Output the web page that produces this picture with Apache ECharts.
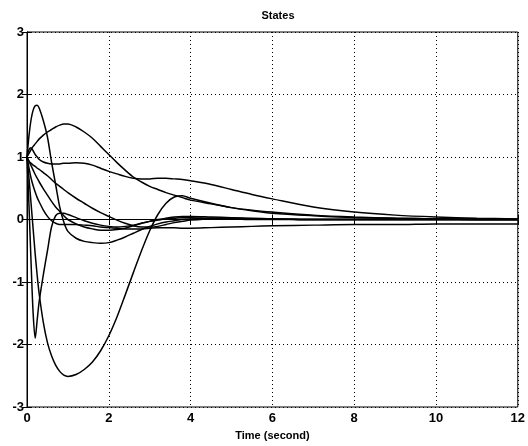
<!DOCTYPE html>
<html>
<head>
<meta charset="utf-8">
<script src="https://cdn.jsdelivr.net/npm/echarts@6/dist/echarts.min.js"></script>
<style>
html,body{margin:0;padding:0;background:#fff;}
#c{width:528px;height:446px;}
</style>
</head>
<body>
<div id="c"></div>
<script>
// time samples (s)
const T = [0, 0.05, 0.1, 0.15, 0.2, 0.25, 0.3, 0.4, 0.5, 0.6, 0.7, 0.8, 0.9, 1.0,
  1.2, 1.4, 1.6, 1.8, 2.0, 2.2, 2.4, 2.6, 2.8, 3.0, 3.2, 3.4, 3.6, 3.8, 4.0,
  4.5, 5, 5.5, 6, 7, 8, 9, 10, 11, 12];

const S1 = [1.0, 1.35, 1.6, 1.75, 1.82, 1.83, 1.78, 1.58, 1.32, 0.92, 0.56, 0.2, -0.04, -0.19,
  -0.3, -0.35, -0.37, -0.38, -0.37, -0.33, -0.28, -0.22, -0.16, -0.11, -0.07, -0.04, -0.02, 0.0, 0.01,
  0.02, 0.02, 0.01, 0.01, 0.0, 0.0, 0.0, 0.0, 0.0, 0.0];
const S2 = [1.0, 1.06, 1.12, 1.17, 1.21, 1.25, 1.29, 1.35, 1.4, 1.44, 1.48, 1.51, 1.53, 1.53,
  1.48, 1.4, 1.3, 1.17, 1.04, 0.91, 0.79, 0.68, 0.6, 0.53, 0.48, 0.43, 0.39, 0.35, 0.31,
  0.25, 0.19, 0.15, 0.12, 0.07, 0.04, 0.02, 0.01, 0.0, 0.0];
const S3 = [1.0, 1.12, 1.15, 1.1, 1.04, 1.0, 0.96, 0.92, 0.9, 0.89, 0.89, 0.89, 0.9, 0.9,
  0.91, 0.9, 0.87, 0.82, 0.77, 0.73, 0.69, 0.66, 0.65, 0.65, 0.66, 0.66, 0.65, 0.64, 0.62,
  0.56, 0.48, 0.4, 0.33, 0.2, 0.12, 0.07, 0.04, 0.02, 0.01];
const S4 = [1.0, 0.65, 0.25, -0.15, -0.55, -0.9, -1.2, -1.65, -1.97, -2.18, -2.33, -2.43, -2.49, -2.51,
  -2.48, -2.4, -2.28, -2.1, -1.86, -1.56, -1.21, -0.85, -0.5, -0.18, 0.08, 0.26, 0.36, 0.38, 0.34,
  0.26, 0.19, 0.14, 0.1, 0.06, 0.03, 0.02, 0.01, 0.0, 0.0];
const S5 = [1.0, 0.2, -0.7, -1.5, -1.9, -1.6, -1.3, -0.88, -0.5, -0.12, 0.06, 0.1, 0.1, 0.08,
  0.03, -0.02, -0.06, -0.09, -0.11, -0.12, -0.11, -0.09, -0.06, -0.03, -0.01, 0.01, 0.02, 0.03, 0.03,
  0.02, 0.02, 0.01, 0.01, 0.0, 0.0, 0.0, 0.0, 0.0, 0.0];
const S6 = [1.0, 0.93, 0.9, 0.87, 0.85, 0.82, 0.8, 0.75, 0.7, 0.64, 0.58, 0.53, 0.48, 0.43,
  0.34, 0.26, 0.18, 0.11, 0.05, -0.01, -0.06, -0.1, -0.12, -0.12, -0.11, -0.08, -0.05, -0.03, -0.01,
  0.01, 0.01, 0.0, 0.0, 0.0, 0.0, 0.0, 0.0, 0.0, 0.0];
const S7 = [1.0, 0.93, 0.86, 0.79, 0.72, 0.66, 0.6, 0.49, 0.39, 0.29, 0.2, 0.13, 0.06, 0.0,
  -0.07, -0.12, -0.15, -0.17, -0.17, -0.16, -0.14, -0.1, -0.06, -0.03, 0.0, 0.02, 0.04, 0.05, 0.05,
  0.04, 0.03, 0.02, 0.01, 0.0, 0.0, 0.0, 0.0, 0.0, 0.0];
const S8 = [1.0, 0.82, 0.66, 0.54, 0.44, 0.35, 0.28, 0.15, 0.05, -0.02, -0.06, -0.08, -0.08, -0.08,
  -0.08, -0.09, -0.1, -0.12, -0.13, -0.14, -0.15, -0.15, -0.15, -0.14, -0.13, -0.13, -0.13, -0.14, -0.14,
  -0.13, -0.12, -0.11, -0.1, -0.09, -0.08, -0.08, -0.07, -0.07, -0.07];

const STATES = [S1, S2, S3, S4, S5, S6, S7, S8];
const TITLE = 'States';
const XLABEL = 'Time (second)';

const FONT = 'Liberation Sans, Arial, sans-serif';
const chart = echarts.init(document.getElementById('c'), null, {renderer: 'canvas'});

const baseAxis = {
  axisLine: {show: true, lineStyle: {color: '#000', width: 1}},
  axisTick: {show: true, inside: true, length: 5, lineStyle: {color: '#000'}},
  axisLabel: {color: '#000', fontFamily: FONT, fontWeight: 'bold', fontSize: 13},
  splitLine: {show: true, lineStyle: {color: '#000', type: [1, 3], width: 1}}
};

chart.setOption({
  animation: false,
  backgroundColor: '#fff',
  title: {
    text: TITLE, left: 273, top: 5, textAlign: 'center',
    textStyle: {fontFamily: FONT, fontWeight: 'bold', fontSize: 11, color: '#000'}
  },
  grid: {left: 27, right: 9, top: 32, bottom: 33, show: true, borderColor: '#000', borderWidth: 1, containLabel: false},
  xAxis: [
    Object.assign({}, baseAxis, {
      type: 'value', min: 0, max: 12, interval: 2, position: 'bottom',
      axisLabel: Object.assign({}, baseAxis.axisLabel, {margin: 5}),
      name: XLABEL, nameLocation: 'middle', nameGap: 23,
      nameTextStyle: {fontFamily: FONT, fontWeight: 'bold', fontSize: 11, color: '#000'}
    }),
    {
      type: 'value', min: 0, max: 12, interval: 2, position: 'top',
      axisLine: {show: true, lineStyle: {color: '#000'}},
      axisTick: {show: true, inside: true, length: 5, lineStyle: {color: '#000'}},
      axisLabel: {show: false}, splitLine: {show: false}
    }
  ],
  yAxis: [
    Object.assign({}, baseAxis, {
      type: 'value', min: -3, max: 3, interval: 1, position: 'left',
      axisLabel: Object.assign({}, baseAxis.axisLabel, {margin: 3})
    }),
    {
      type: 'value', min: -3, max: 3, interval: 1, position: 'right',
      axisLine: {show: true, lineStyle: {color: '#000'}},
      axisTick: {show: true, inside: true, length: 5, lineStyle: {color: '#000'}},
      axisLabel: {show: false}, splitLine: {show: false}
    }
  ],
  series: STATES.map((s, k) => ({
    type: 'line',
    name: 'x' + (k + 1),
    xAxisIndex: 0, yAxisIndex: 0,
    data: T.map((t, i) => [t, s[i]]),
    showSymbol: false,
    smooth: 0.3,
    lineStyle: {color: '#000', width: 1.5},
    silent: true
  }))
});
</script>
</body>
</html>
